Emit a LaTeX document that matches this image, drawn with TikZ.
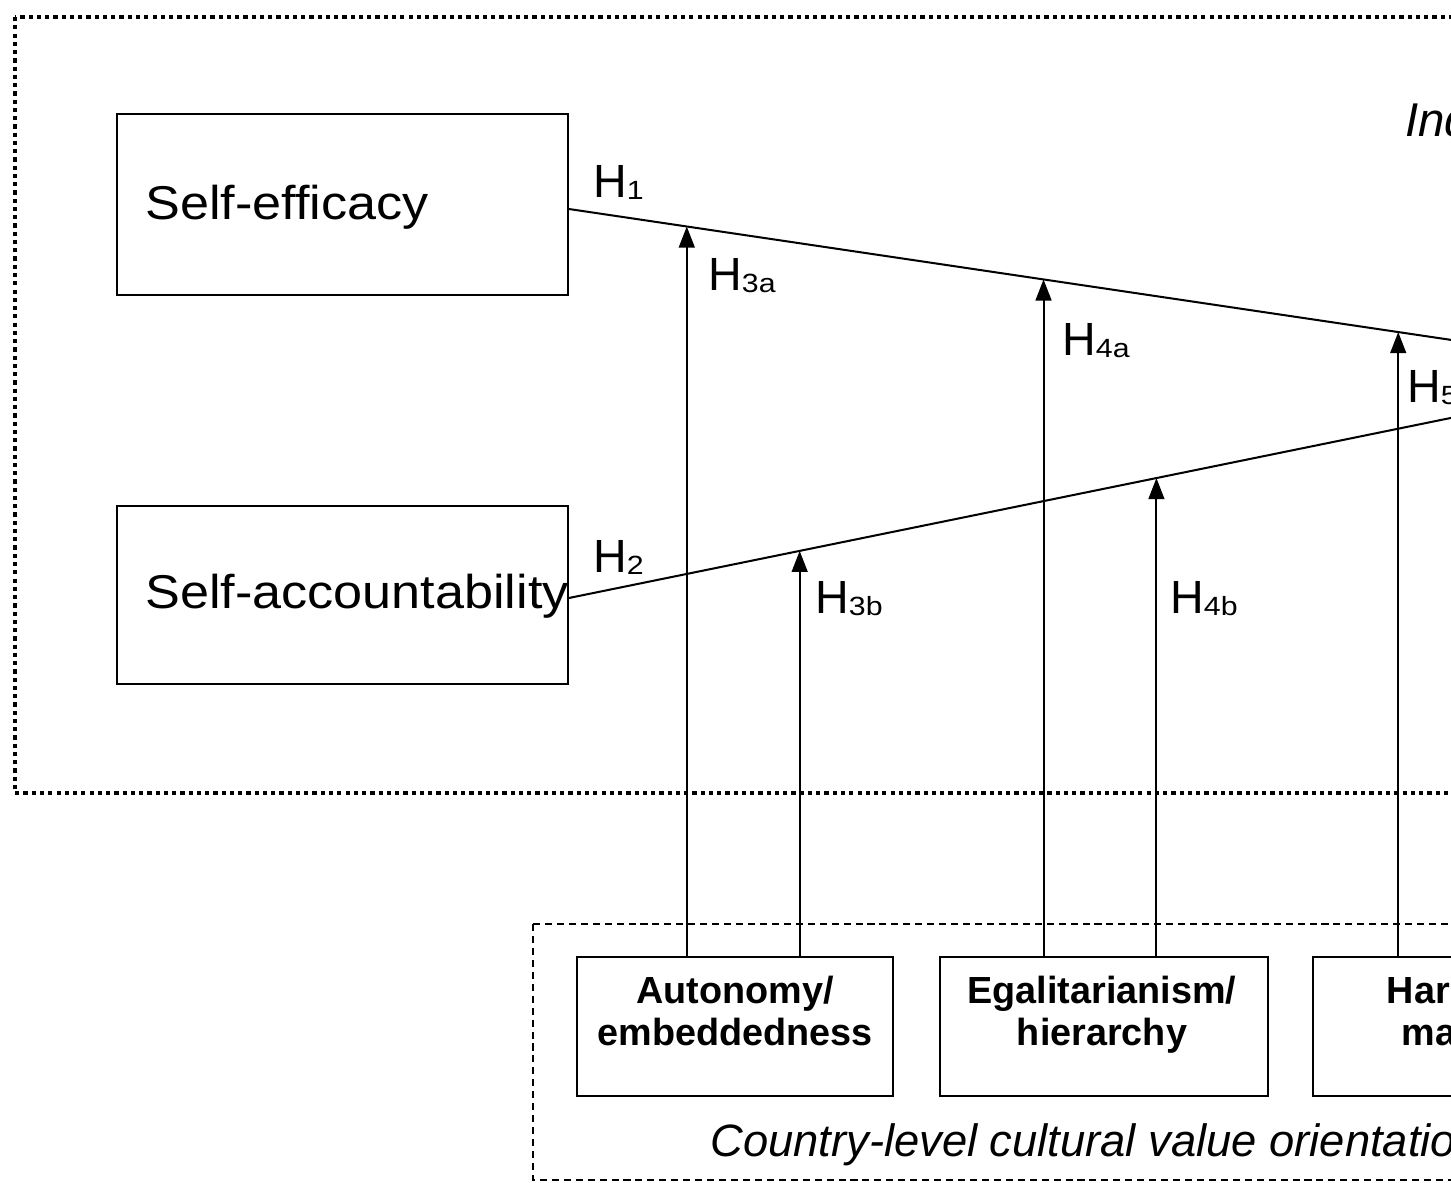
\documentclass[tikz,border=0pt]{standalone}
\usepackage{fontspec}
\setmainfont{Liberation Sans}[Ligatures=CommonOff]
\usetikzlibrary{arrows.meta}
\tikzset{
  boxa/.style={draw, line width=1.1pt, rectangle, inner sep=0pt},
  conn/.style={line width=1.15pt},
  arr/.style={line width=1.15pt, -{Triangle[width=9pt,length=12pt]}},
  bigtxt/.style={font=\fontsize{27}{30}\selectfont, inner sep=0pt, anchor=base west},
  hyp/.style={font=\fontsize{26.5}{28}\selectfont, inner sep=0pt, anchor=base west},
  cult/.style={font=\fontsize{21.5}{24}\selectfont\bfseries, align=center, inner sep=0pt},
  dotbox/.style={line width=2.5pt, dash pattern=on 2.4pt off 2.3pt},
  dashbox/.style={line width=0.8pt, dash pattern=on 4pt off 2.8pt}
}
\newcommand{\Hs}[1]{H\raisebox{-1.2pt}{\fontsize{15}{16}\selectfont\scalebox{1.15}[1]{#1}}}
\newcommand{\topst}{\rule{0pt}{17pt}}
\newcommand{\botst}{\rule[-5pt]{0pt}{5pt}}
\begin{document}
\begin{tikzpicture}[x=0.02cm,y=-0.02cm]
\useasboundingbox (0,0) rectangle (1451,1183);
\clip (0,0) rectangle (1451,1183);
\fill[white] (0,0) rectangle (1451,1183);
% frames
\draw[dotbox] (15,17) rectangle (1750,793);
\draw[dashbox] (533,924) rectangle (1750,1180);
% top boxes
\node[boxa, minimum width=9.02cm, minimum height=3.62cm] (se) at (342.5,204.5) {};
\node[bigtxt] (set) at (145,219) {\scalebox{1.1}[1]{Self-efficacy}};
\node[boxa, minimum width=9.02cm, minimum height=3.56cm] (sa) at (342.5,595) {};
\node[bigtxt] (sat) at (145,608) {\scalebox{1.1}[1]{Self-accountability}};
% level label
\node[font=\fontsize{27}{28}\selectfont\itshape, inner sep=0pt, anchor=base west] (ind) at (1405,136) {Individual level};
% bottom boxes
\node[boxa, minimum width=6.32cm, minimum height=2.78cm] (auto) at (735,1026.5) {};
\node[cult] (autot) at (735,1014) {\topst Autonomy/\\embeddedness\botst};
\node[boxa, minimum width=6.56cm, minimum height=2.78cm] (egal) at (1104,1026.5) {};
\node[cult] (egalt) at (1102,1014) {\topst Egalitarianism/\\hierarchy\botst};
\node[boxa, minimum width=6.44cm, minimum height=2.78cm] (harm) at (1474,1026.5) {};
\node[cult] (harmt) at (1474,1014) {\topst Harmony/\\mastery\botst};
\node[font=\fontsize{25.8}{27}\selectfont\itshape, inner sep=0pt, anchor=base west] (cvo) at (710,1156) {Country-level cultural value orientations};
% outcome side (off picture)
\coordinate (o1) at (1600,362);
\coordinate (o2) at (1600,387.5);
% main paths
\draw[conn] ([yshift=-0.09cm]se.east) -- coordinate[pos=0.1143] (t3a) coordinate[pos=0.4603] (t4a) coordinate[pos=0.8043] (t5) (o1);
\draw[conn] ([yshift=-0.06cm]sa.east) -- coordinate[pos=0.2238] (t3b) coordinate[pos=0.5698] (t4b) (o2);
% moderating arrows
\draw[arr] (auto.north -| t3a) -- (t3a);
\draw[arr] (auto.north -| t3b) -- (t3b);
\draw[arr] (egal.north -| t4a) -- (t4a);
\draw[arr] (egal.north -| t4b) -- (t4b);
\draw[arr] (harm.north -| t5) -- (t5);
% hypothesis labels
\node[hyp] (h1) at (593,197) {\Hs{1}};
\node[hyp] (h2) at (593,572) {\Hs{2}};
\node[hyp] (h3a) at (708,290) {\Hs{3a}};
\node[hyp] (h3b) at (815,613) {\Hs{3b}};
\node[hyp] (h4a) at (1062,355) {\Hs{4a}};
\node[hyp] (h4b) at (1170,613) {\Hs{4b}};
\node[hyp] (h5) at (1407,402) {\Hs{5}};
\end{tikzpicture}
\end{document}
